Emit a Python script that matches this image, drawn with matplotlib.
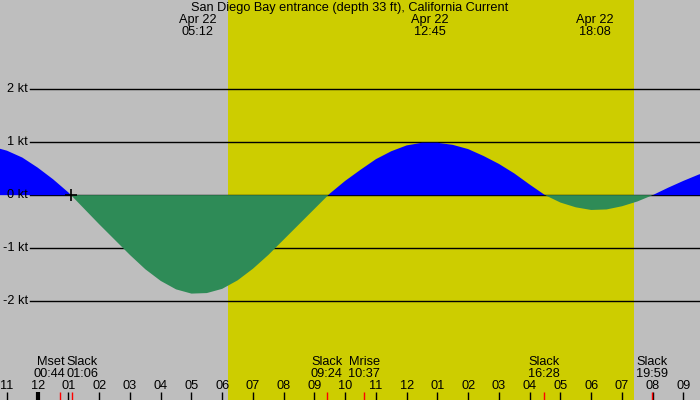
import matplotlib
matplotlib.use('Agg')
import matplotlib.pyplot as plt
import matplotlib.transforms as mtransforms
import numpy as np

plt.rcParams['font.family'] = ['Liberation Sans', 'DejaVu Sans']

title = "San Diego Bay entrance (depth 33 ft), California Current"
date_label = "Apr 22"

# current readings (kt), hours relative to Apr 22 00:00
hours = [-1.5, -1.0, -0.5, 0.0, 0.5, 1.0, 1.5, 2.0, 2.5, 3.0, 3.5, 4.0,
         4.5, 5.0, 5.5, 6.0, 6.5, 7.0, 7.5, 8.0, 8.5, 9.0, 9.5, 10.0,
         10.5, 11.0, 11.5, 12.0, 12.5, 13.0, 13.5, 14.0, 14.5, 15.0, 15.5, 16.0,
         16.5, 17.0, 17.5, 18.0, 18.5, 19.0, 19.5, 20.0, 20.5, 21.0, 21.5, 22.0]
speed = [0.92, 0.84, 0.71, 0.52, 0.30, 0.05, -0.25, -0.55, -0.84, -1.13, -1.40, -1.62,
         -1.78, -1.86, -1.85, -1.77, -1.61, -1.39, -1.13, -0.84, -0.55, -0.26, 0.03, 0.27,
         0.48, 0.68, 0.83, 0.94, 0.99, 0.99, 0.95, 0.87, 0.74, 0.59, 0.41, 0.20,
         0.00, -0.14, -0.23, -0.28, -0.27, -0.21, -0.12, 0.00, 0.14, 0.27, 0.39, 0.48]

peak_times = ["05:12", "12:45", "18:08"]
event_names = ["Mset", "Slack", "Slack", "Mrise", "Slack", "Slack"]
event_times = ["00:44", "01:06", "09:24", "10:37", "16:28", "19:59"]
marker_time = "01:05"
sunrise = "06:11"
sunset = "19:23"
hour_ticks = list(range(-1, 22))
kt_levels = [2, 1, 0, -1, -2]


def to_h(s):
    h, m = s.split(':')
    return int(h) + int(m) / 60.0


GRAY = '#BEBEBE'
DAY = '#CDCD00'
FLOOD = '#0000FF'
EBB = '#2E8B57'
FS = 9.2

W, H = 700, 400
x0_px, px_per_h = 37.7, 30.75
y0_px, px_per_kt = 195.15, 52.93

fig = plt.figure(figsize=(7, 4), dpi=100)
fig.patch.set_facecolor(GRAY)
ax = fig.add_axes([0, 0, 1, 1])
ax.set_facecolor(GRAY)
ax.set_xlim(-x0_px / px_per_h, (W - x0_px) / px_per_h)
ax.set_ylim(-(H - y0_px) / px_per_kt, y0_px / px_per_kt)
ax.axis('off')

ax.axvspan(to_h(sunrise), to_h(sunset), color=DAY, lw=0, zorder=0)

for lvl in kt_levels:
    ax.axhline(lvl, xmin=30 / W, xmax=1, color='black', lw=1, zorder=1)

t = np.array(hours)
v = np.array(speed)
ax.fill_between(t, v, 0, where=v >= 0, interpolate=True, color=FLOOD, lw=0, zorder=2)
ax.fill_between(t, v, 0, where=v <= 0, interpolate=True, color=EBB, lw=0, zorder=2)

ax.plot([to_h(marker_time)], [0], marker='+', color='black', ms=8, mew=1.2, zorder=4)

# y labels
ytr = mtransforms.blended_transform_factory(ax.transAxes, ax.transData)
for lvl in kt_levels:
    ax.text(28 / W, lvl, f"{lvl} kt", transform=ytr, ha='right', va='center',
            fontsize=FS, zorder=5)

xtr = mtransforms.blended_transform_factory(ax.transData, ax.transAxes)

# title and peak labels
ax.text(0.5, 1 - 8 / H, title, transform=ax.transAxes, ha='center', va='center',
        fontsize=FS, zorder=5)
for pt in peak_times:
    ph = to_h(pt)
    ax.text(ph, 1 - 20 / H, date_label, transform=xtr, ha='center', va='center',
            fontsize=FS, zorder=5)
    ax.text(ph, 1 - 32 / H, pt, transform=xtr, ha='center', va='center',
            fontsize=FS, zorder=5)

# hour ticks
tick_len = 8 / H
for hh in hour_ticks:
    lw = 3 if hh == 0 else 1
    ax.vlines(hh, 0, tick_len, transform=xtr, color='black', lw=lw, zorder=5)
    lab = hh % 12
    lab = 12 if lab == 0 else lab
    ax.text(hh, 1 - 386 / H, f"{lab:02d}", transform=xtr, ha='center', va='center',
            fontsize=FS, zorder=5)

# event ticks and labels
ev_h = [to_h(s) for s in event_times]
gap = 1.0 / px_per_h
has = ['center'] * len(ev_h)
xs = list(ev_h)
for i in range(len(ev_h) - 1):
    if ev_h[i + 1] - ev_h[i] < 1.0:
        mid = (ev_h[i] + ev_h[i + 1]) / 2
        xs[i], has[i] = mid - gap, 'right'
        xs[i + 1], has[i + 1] = mid + gap, 'left'
for eh, x, ha, name, ts in zip(ev_h, xs, has, event_names, event_times):
    ax.vlines(eh, 0, tick_len, transform=xtr, color='red', lw=1, zorder=6)
    ax.text(x, 1 - 362 / H, name, transform=xtr, ha=ha, va='center', fontsize=FS, zorder=5)
    ax.text(x, 1 - 374 / H, ts, transform=xtr, ha=ha, va='center', fontsize=FS, zorder=5)

fig.savefig('out.png', dpi=100, facecolor=GRAY)
